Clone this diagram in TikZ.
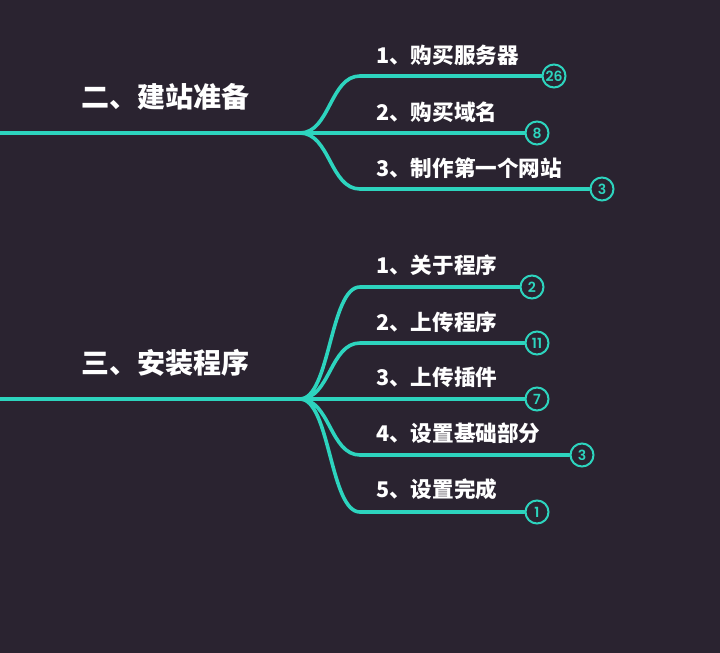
\documentclass[tikz,border=0pt]{standalone}
\usepackage{fontspec}
\usepackage{tikz}
\usetikzlibrary{calc,positioning}
\newfontfamily\cjk{Noto Sans CJK SC}
\newfontfamily\numfont{Poppins SemiBold}
\definecolor{mapBg}{HTML}{2A2330}
\definecolor{mapTeal}{HTML}{2DD4BE}

\begin{document}
\begin{tikzpicture}[x=1pt,y=-1pt,
  branch/.style={draw=mapTeal,line width=3.6pt,line cap=round},
  topic/.style={font=\cjk\bfseries\fontsize{28}{30}\selectfont,text=white,inner sep=0},
  item/.style={anchor=west,font=\cjk\bfseries\fontsize{21.6}{23}\selectfont,text=white,inner sep=0},
  count/.style={circle,draw=mapTeal,line width=2pt,fill=mapBg,text=mapTeal,minimum size=23pt,inner sep=0,font=\numfont\fontsize{14}{14}\selectfont}
]
  \fill[mapBg] (0,0) rectangle (720,653);
  \useasboundingbox (0,0) rectangle (720,653);

  % branch 1
  \coordinate (root1) at (0,133);
  \coordinate (fork1) at (300,133);
  \node[topic] (sec1) at (165,97) {二、建站准备};
  \node[count] (n11) at (554,76) {26};
  \node[count] (n12) at (537,133) {8};
  \node[count] (n13) at (602,189) {3};
  \node[item] (t11) at (376,55) {1、购买服务器};
  \node[item] (t12) at (376,112) {2、购买域名};
  \node[item] (t13) at (376,168) {3、制作第一个网站};
  \draw[branch,line width=4.4pt] (root1) -- (fork1);
  \draw[branch] (fork1) -- (n12);
  \foreach \k in {n11,n13}
    \draw[branch] (fork1) .. controls +(30,0) and +(-30,0) .. ($(fork1 |- \k)+(60,0)$) -- (\k);

  % branch 2
  \coordinate (root2) at (0,399);
  \coordinate (fork2) at (300,399);
  \node[topic] (sec2) at (165,363) {三、安装程序};
  \node[count] (n21) at (532,287) {2};
  \node[count] (n22) at (537,343) {11};
  \node[count] (n23) at (537,399) {7};
  \node[count] (n24) at (582,455) {3};
  \node[count] (n25) at (537,512) {1};
  \node[item] (t21) at (376,265) {1、关于程序};
  \node[item] (t22) at (376,322) {2、上传程序};
  \node[item] (t23) at (376,377) {3、上传插件};
  \node[item] (t24) at (376,433) {4、设置基础部分};
  \node[item] (t25) at (376,489) {5、设置完成};
  \draw[branch,line width=4.4pt] (root2) -- (fork2);
  \draw[branch] (fork2) -- (n23);
  \foreach \k in {n21,n22,n24,n25}
    \draw[branch] (fork2) .. controls +(30,0) and +(-30,0) .. ($(fork2 |- \k)+(60,0)$) -- (\k);
\end{tikzpicture}
\end{document}
